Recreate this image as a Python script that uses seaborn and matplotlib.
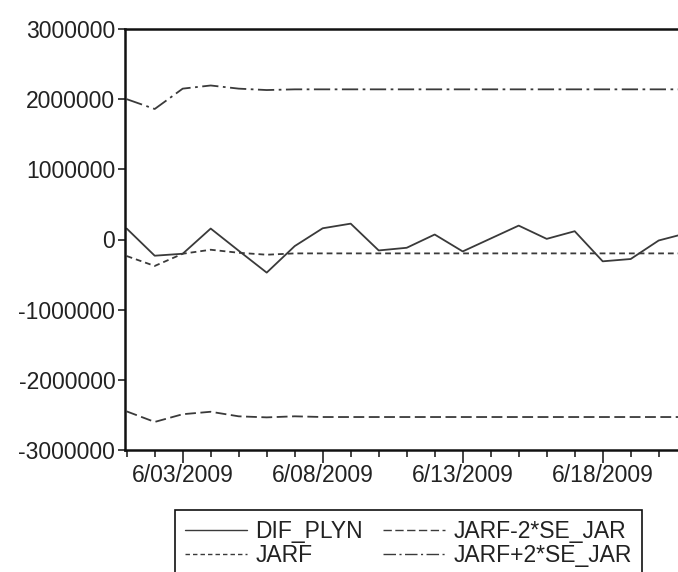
import matplotlib
matplotlib.use("Agg")
import matplotlib.pyplot as plt
import matplotlib.dates as mdates
from matplotlib.lines import Line2D
import pandas as pd
import seaborn as sns

# Daily observations, June 2009
start_date = "2009-06-01"
n_days = 21

dif_plyn = [156000, -231000, -203000, 156000, -160000, -472000, -94000, 160000,
            226000, -156000, -118000, 71000, -170000, 14000, 198000, 9000,
            118000, -311000, -278000, -14000, 90000]
jarf = [-236000, -377000, -203000, -146000, -189000, -217000, -198000, -198000,
        -198000, -198000, -198000, -198000, -198000, -198000, -198000, -198000,
        -198000, -198000, -198000, -198000, -198000]
jarf_lo = [-2450000, -2600000, -2490000, -2455000, -2520000, -2535000, -2520000,
           -2530000, -2530000, -2530000, -2530000, -2530000, -2530000, -2530000,
           -2530000, -2530000, -2530000, -2530000, -2530000, -2530000, -2530000]
jarf_hi = [2000000, 1860000, 2150000, 2195000, 2150000, 2130000, 2140000,
           2140000, 2140000, 2140000, 2140000, 2140000, 2140000, 2140000,
           2140000, 2140000, 2140000, 2140000, 2140000, 2140000, 2140000]

series_names = ["DIF_PLYN", "JARF", "JARF-2*SE_JAR", "JARF+2*SE_JAR"]
y_ticks = [-3000000, -2000000, -1000000, 0, 1000000, 2000000, 3000000]

dates = pd.date_range(start_date, periods=n_days, freq="D")
df = pd.DataFrame({
    "date": dates,
    series_names[0]: dif_plyn,
    series_names[1]: jarf,
    series_names[2]: jarf_lo,
    series_names[3]: jarf_hi,
})

sns.set_style("ticks")
plt.rcParams["font.family"] = ["Liberation Sans", "DejaVu Sans"]
FS = 16.5
plt.rcParams["font.size"] = FS

W, H = 678, 572
fig = plt.figure(figsize=(W / 100, H / 100), dpi=100)
left_px, right_px, top_px, bottom_px = 125, 690, 29, 450
ax = fig.add_axes([left_px / W, 1 - bottom_px / H,
                   (right_px - left_px) / W, (bottom_px - top_px) / H])

line_col = "#3a3a3a"
styles = {
    "DIF_PLYN": "-",
    "JARF": (0, (3.2, 2.2)),
    "JARF-2*SE_JAR": (0, (6, 2.5)),
    "JARF+2*SE_JAR": (0, (9, 2.5, 1.5, 2.5)),
}

for name in series_names:
    sns.lineplot(data=df, x="date", y=name, ax=ax, color=line_col,
                 linewidth=1.3, linestyle=styles[name], legend=False)

x0 = mdates.date2num(dates[0])
ax.set_xlim(x0 - (126.7 - left_px) / 28, x0 + (right_px - 126.7) / 28)
ax.set_ylim(-3000000, 3000000)
ax.set_yticks(y_ticks)
ax.set_yticklabels([str(v) for v in y_ticks])

major_days = [d for d in dates if d.day in (3, 8, 13, 18)]
ax.set_xticks(mdates.date2num(major_days))
ax.set_xticklabels([f"{d.month}/{d.day:02d}/{d.year}" for d in major_days])
ax.xaxis.set_minor_locator(mdates.DayLocator())
ax.set_xlabel("")
ax.set_ylabel("")

for side in ("left", "bottom", "top"):
    ax.spines[side].set_visible(True)
    ax.spines[side].set_linewidth(1.8)
    ax.spines[side].set_color("#111111")
ax.spines["right"].set_visible(False)

ax.tick_params(axis="y", length=5, width=1.1, colors="#111111", labelcolor="#222222", pad=2)
ax.tick_params(axis="x", which="major", length=9, width=1.1, colors="#111111",
               labelcolor="#222222", pad=1)
ax.tick_params(axis="x", which="minor", length=5, width=1.1, colors="#111111")

handles = [Line2D([], [], color=line_col, linewidth=1.0, linestyle=styles[n])
           for n in series_names]
leg = fig.legend(handles, series_names, ncol=2, loc="upper left",
                 bbox_to_anchor=(175 / W, 1 - 510 / H), borderaxespad=0,
                 frameon=True, fancybox=False, edgecolor="#111111", framealpha=1,
                 handlelength=2.7, handletextpad=0.35, columnspacing=0.9,
                 labelspacing=0.05, borderpad=0.45, fontsize=FS)
leg.get_frame().set_linewidth(1.2)
for t in leg.get_texts():
    t.set_color("#222222")

fig.savefig("out.png", dpi=100)
